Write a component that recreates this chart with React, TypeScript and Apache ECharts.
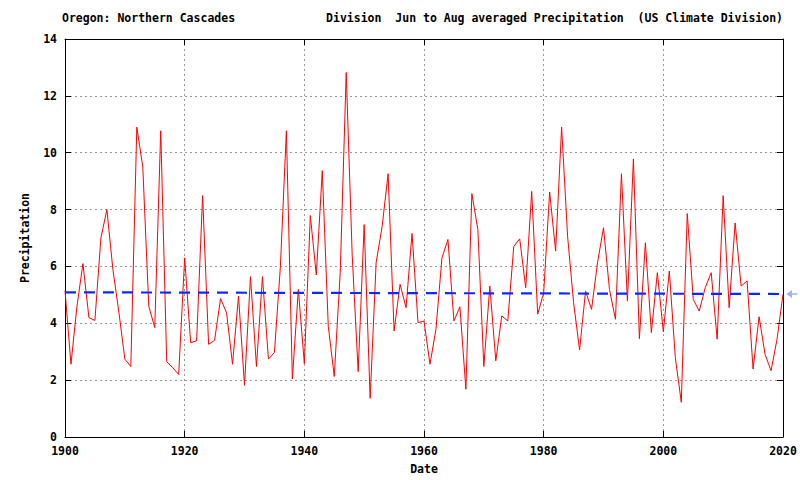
import React, { useEffect, useRef } from "react";
import * as echarts from "echarts";

const years = [
  1900, 1901, 1902, 1903, 1904, 1905, 1906, 1907, 1908, 1909,
  1910, 1911, 1912, 1913, 1914, 1915, 1916, 1917, 1918, 1919,
  1920, 1921, 1922, 1923, 1924, 1925, 1926, 1927, 1928, 1929,
  1930, 1931, 1932, 1933, 1934, 1935, 1936, 1937, 1938, 1939,
  1940, 1941, 1942, 1943, 1944, 1945, 1946, 1947, 1948, 1949,
  1950, 1951, 1952, 1953, 1954, 1955, 1956, 1957, 1958, 1959,
  1960, 1961, 1962, 1963, 1964, 1965, 1966, 1967, 1968, 1969,
  1970, 1971, 1972, 1973, 1974, 1975, 1976, 1977, 1978, 1979,
  1980, 1981, 1982, 1983, 1984, 1985, 1986, 1987, 1988, 1989,
  1990, 1991, 1992, 1993, 1994, 1995, 1996, 1997, 1998, 1999,
  2000, 2001, 2002, 2003, 2004, 2005, 2006, 2007, 2008, 2009,
  2010, 2011, 2012, 2013, 2014, 2015, 2016, 2017, 2018, 2019,
  2020,
];

const precipitation = [
  5.15, 2.56, 4.6, 6.1, 4.2, 4.1, 7.0, 8.0, 5.9, 4.4,
  2.74, 2.48, 10.9, 9.5, 4.6, 3.85, 10.77, 2.65, 2.44, 2.2,
  6.3, 3.32, 3.38, 8.49, 3.26, 3.4, 4.87, 4.37, 2.56, 4.96,
  1.82, 5.64, 2.48, 5.64, 2.74, 2.97, 6.0, 10.77, 2.04, 5.19,
  2.58, 7.79, 5.7, 9.37, 3.9, 2.13, 5.78, 12.82, 6.4, 2.3,
  7.47, 1.36, 6.13, 7.4, 9.26, 3.73, 5.37, 4.55, 7.16, 4.02,
  4.08, 2.56, 3.79, 6.3, 6.95, 4.08, 4.58, 1.68, 8.56, 7.3,
  2.48, 5.31, 2.68, 4.26, 4.08, 6.7, 6.97, 5.25, 8.64, 4.32,
  5.07, 8.62, 6.54, 10.9, 7.06, 4.73, 3.06, 5.13, 4.49, 6.13,
  7.36, 5.19, 4.14, 9.26, 4.78, 9.78, 3.46, 6.83, 3.67, 5.78,
  3.7, 5.84, 2.8, 1.22, 7.86, 4.84, 4.43, 5.25, 5.78, 3.44,
  8.49, 4.55, 7.53, 5.31, 5.49, 2.39, 4.23, 2.91, 2.33, 3.44,
  5.02,
];

const trendYears = [1900, 2020];
const trendValues = [5.09, 5.03];

const xTicks = [1900, 1920, 1940, 1960, 1980, 2000, 2020];
const yTicks = [0, 2, 4, 6, 8, 10, 12, 14];

const titleLeft = "Oregon: Northern Cascades";
const titleRight = "Division  Jun to Aug averaged Precipitation  (US Climate Division)";
const xName = "Date";
const yName = "Precipitation";

const FONT = "'DejaVu Sans Mono', 'Liberation Mono', monospace";

export default function App() {
  const ref = useRef<HTMLDivElement>(null);

  useEffect(() => {
    if (!ref.current) return;
    const chart = echarts.init(ref.current, null, { renderer: "svg" });
    const textBase = {
      fontFamily: FONT,
      fontWeight: "bold" as const,
      fontSize: 11.5,
      color: "#000",
    };
    const gridLine = {
      show: true,
      lineStyle: { color: "#999999", type: [2, 3] as any, width: 1 },
    };
    const option: any = {
      animation: false,
      backgroundColor: "#fff",
      title: [
        { text: titleLeft, left: 62, top: 12, padding: 0, textStyle: { ...textBase } },
        { text: titleRight, right: 17, top: 12, padding: 0, textStyle: { ...textBase } },
      ],
      grid: { left: 65, right: 17, top: 39, bottom: 42, containLabel: false },
      xAxis: [
        {
          type: "value",
          min: xTicks[0],
          max: xTicks[xTicks.length - 1],
          interval: xTicks[1] - xTicks[0],
          position: "bottom",
          axisLine: { show: true, lineStyle: { color: "#000", width: 1 } },
          axisTick: { show: true, inside: true, length: 6, lineStyle: { color: "#000" } },
          axisLabel: { ...textBase, margin: 8, formatter: (v: number) => String(v) },
          splitLine: gridLine,
          name: xName,
          nameLocation: "middle",
          nameGap: 26,
          nameTextStyle: { ...textBase },
        },
        {
          type: "value",
          min: xTicks[0],
          max: xTicks[xTicks.length - 1],
          interval: xTicks[1] - xTicks[0],
          position: "top",
          axisLine: { show: true, onZero: false, lineStyle: { color: "#000", width: 1 } },
          axisTick: { show: true, inside: true, length: 6, lineStyle: { color: "#000" } },
          axisLabel: { show: false },
          splitLine: { show: false },
        },
      ],
      yAxis: [
        {
          type: "value",
          min: yTicks[0],
          max: yTicks[yTicks.length - 1],
          interval: yTicks[1] - yTicks[0],
          position: "left",
          axisLine: { show: true, onZero: false, lineStyle: { color: "#000", width: 1 } },
          axisTick: { show: true, inside: true, length: 6, lineStyle: { color: "#000" } },
          axisLabel: { ...textBase, margin: 8 },
          splitLine: gridLine,
          name: yName,
          nameLocation: "middle",
          nameGap: 34,
          nameTextStyle: { ...textBase },
        },
        {
          type: "value",
          min: yTicks[0],
          max: yTicks[yTicks.length - 1],
          interval: yTicks[1] - yTicks[0],
          position: "right",
          axisLine: { show: true, onZero: false, lineStyle: { color: "#000", width: 1 } },
          axisTick: { show: true, inside: true, length: 6, lineStyle: { color: "#000" } },
          axisLabel: { show: false },
          splitLine: { show: false },
        },
      ],
      series: [
        {
          type: "line",
          xAxisIndex: 0,
          yAxisIndex: 0,
          data: years.map((y, i) => [y, precipitation[i]]),
          showSymbol: false,
          symbol: "none",
          lineStyle: { color: "#ff0000", width: 1 },
          z: 3,
        },
        {
          type: "line",
          xAxisIndex: 0,
          yAxisIndex: 0,
          data: trendYears.map((y, i) => [y, trendValues[i]]),
          showSymbol: false,
          symbol: "none",
          lineStyle: { color: "#0a28ff", width: 2.2, type: [11, 8] },
          z: 4,
        },
        {
          type: "scatter",
          xAxisIndex: 0,
          yAxisIndex: 0,
          clip: false,
          data: [[trendYears[1], trendValues[1]]],
          symbol: "path://M0,5 L6,0 L6,4 L12,4 L12,6 L6,6 L6,10 Z",
          symbolSize: [11, 8],
          symbolOffset: [9, 0],
          itemStyle: { color: "#7f9cff" },
          z: 5,
        },
      ],
    };
    chart.setOption(option);
    return () => chart.dispose();
  }, []);

  return (
    <div
      ref={ref}
      style={{ position: "absolute", left: 0, top: 0, width: 800, height: 480 }}
    />
  );
}
